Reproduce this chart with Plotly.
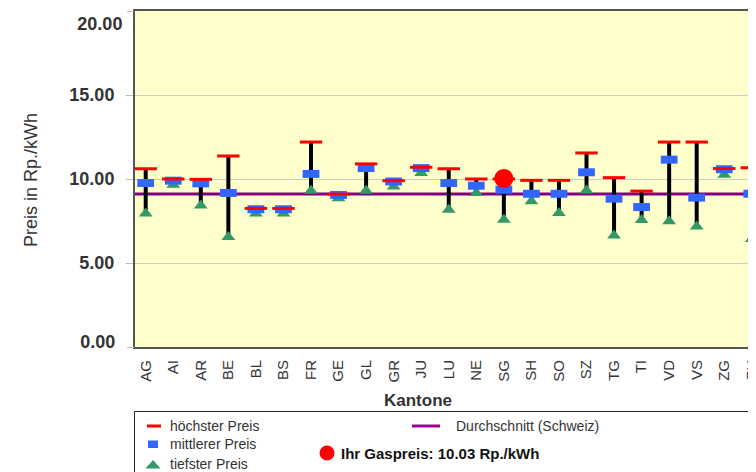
import plotly.graph_objects as go

# ---------------- data ----------------
cantons = ["AG", "AI", "AR", "BE", "BL", "BS", "FR", "GE", "GL", "GR", "JU", "LU",
           "NE", "SG", "SH", "SO", "SZ", "TG", "TI", "VD", "VS", "ZG", "ZH"]
price_high = [10.61, 10.00, 9.98, 11.37, 8.25, 8.25, 12.20, 9.10, 10.90, 9.90, 10.70, 10.61,
              10.00, 10.00, 9.92, 9.92, 11.55, 10.08, 9.28, 12.20, 12.20, 10.62, 10.67]
price_mean = [9.76, 9.90, 9.74, 9.17, 8.20, 8.20, 10.30, 9.05, 10.65, 9.85, 10.65, 9.76,
              9.60, 9.36, 9.12, 9.12, 10.40, 8.83, 8.33, 11.15, 8.89, 10.58, 9.12]
price_low = [7.95, 9.66, 8.43, 6.55, 7.95, 7.95, 9.30, 8.85, 9.30, 9.56, 10.35, 8.17,
             9.17, 7.58, 8.67, 7.97, 9.32, 6.63, 7.56, 7.48, 7.18, 10.26, 6.43]
avg_ch = 9.1
your_canton = "SG"
your_price = 10.03
y_min, y_max = 0, 20
y_mid_ticks = [5, 10, 15]
y_mid_labels = ["5.00", "10.00", "15.00"]
y_top_label = "20.00"
y_bottom_label = "0.00"

# ---------------- layout helpers ----------------
W, H = 756, 472
OFF = 8                               # page offset of the figure
PL, PR, PT, PB = 135, 756, 11, 347   # plot area in page pixels


def px(x):
    return (x - PL) / (PR - PL)


def py(y):
    return (PB - y) / (PB - PT)


RED = "#FF0000"
BLUE = "#3366FF"
GREEN = "#339966"
PURPLE = "#800080"
TXT = "#333333"
FONT = "Arial, Liberation Sans, sans-serif"

fig = go.Figure()

# error bars (low - high)
fig.add_trace(go.Scatter(
    x=cantons, y=price_mean, mode="markers",
    marker=dict(size=1, color="rgba(0,0,0,0)"),
    error_y=dict(type="data", symmetric=False,
                 array=[h - m for h, m in zip(price_high, price_mean)],
                 arrayminus=[m - l for m, l in zip(price_mean, price_low)],
                 thickness=4, width=0, color="black"),
    showlegend=False, hoverinfo="skip"))

# lowest
fig.add_trace(go.Scatter(
    x=cantons, y=price_low, mode="markers", name="tiefster Preis",
    marker=dict(symbol="triangle-up", size=12, color=GREEN), showlegend=False))
# mean (12x8 rectangle via thick ew line)
fig.add_trace(go.Scatter(
    x=cantons, y=price_mean, mode="markers", name="mittlerer Preis",
    marker=dict(symbol="line-ew", size=12, line=dict(width=8, color=BLUE)), showlegend=False))
# highest
fig.add_trace(go.Scatter(
    x=cantons, y=price_high, mode="markers", name="höchster Preis",
    marker=dict(symbol="line-ew", size=16, line=dict(width=3, color=RED)), showlegend=False))
# your price
fig.add_trace(go.Scatter(
    x=[your_canton], y=[your_price], mode="markers", name="Ihr Gaspreis",
    marker=dict(symbol="circle", size=19, color=RED), showlegend=False))

# invisible anchors so the two extra label axes get drawn
for ax in ("y2", "y3"):
    fig.add_trace(go.Scatter(x=[your_canton], y=[your_price], yaxis=ax, mode="markers",
                             marker=dict(size=1, opacity=0), showlegend=False,
                             hoverinfo="skip"))

shapes = [
    # average line
    dict(type="line", xref="paper", yref="y", x0=0, x1=1, y0=avg_ch, y1=avg_ch,
         line=dict(color=PURPLE, width=3), layer="below"),
    # legend box
    dict(type="rect", xref="paper", yref="paper", x0=px(134.5), x1=px(800),
         y0=py(411.5), y1=py(520), line=dict(color="#222222", width=1),
         fillcolor="white", layer="below"),
    # legend keys
    dict(type="line", xref="paper", yref="paper", x0=px(147), x1=px(161),
         y0=py(426), y1=py(426), line=dict(color=RED, width=3)),
    dict(type="rect", xref="paper", yref="paper", x0=px(148), x1=px(158),
         y0=py(448), y1=py(440.5), line=dict(width=0), fillcolor=BLUE),
    dict(type="path", xref="paper", yref="paper",
         path=(f"M {px(145.5)},{py(468.5)} L {px(160.5)},{py(468.5)} "
               f"L {px(153)},{py(460)} Z"),
         line=dict(width=0), fillcolor=GREEN),
    dict(type="line", xref="paper", yref="paper", x0=px(412), x1=px(440),
         y0=py(426), y1=py(426), line=dict(color="#990099", width=3)),
    dict(type="circle", xref="paper", yref="paper", x0=px(319.5), x1=px(334.5),
         y0=py(460.5), y1=py(445.5), line=dict(width=0), fillcolor=RED),
]


def ann(text, x, y, size, xanchor="left", color=TXT, **kw):
    return dict(text=text, x=px(x), y=py(y), xref="paper", yref="paper",
                xanchor=xanchor, yanchor="middle", showarrow=False,
                font=dict(family=FONT, size=size, color=color), **kw)


annotations = [
    ann("Preis in Rp./kWh", 31, 180, 18, xanchor="center", textangle=-90),
    ann("<b>Kantone</b>", 418, 400, 17, xanchor="center"),
    ann("höchster Preis", 168, 426, 14),
    ann("mittlerer Preis", 168, 444, 14),
    ann("tiefster Preis", 168, 464, 14),
    ann("Durchschnitt (Schweiz)", 454, 426, 14),
    ann(f"<b>Ihr Gaspreis: {your_price:.2f} Rp./kWh</b>", 339, 453, 15, color="#111111"),
]

spacing = 27.55
first_px = 145.7
x_lo = -(first_px - PL) / spacing
x_hi = (PR - first_px) / spacing

ytick_common = dict(range=[y_min, y_max], automargin=False,
                    tickfont=dict(family=FONT, size=18, color=TXT),
                    ticks="outside", ticklen=7, tickcolor="#BBBBBB",
                    ticklabelstandoff=8, zeroline=False)

fig.update_layout(
    width=W, height=H,
    margin=dict(l=PL - OFF, r=W - PR + OFF, t=PT - OFF, b=H - PB + OFF, pad=0,
                autoexpand=False),
    paper_bgcolor="white",
    plot_bgcolor="#FFFFCC",
    showlegend=False,
    xaxis=dict(range=[x_lo, x_hi], type="category", automargin=False,
               tickangle=-90, tickfont=dict(family=FONT, size=15, color=TXT),
               showline=True, linecolor="#555555", linewidth=2, mirror=True,
               showgrid=False, zeroline=False, ticks="", ticklabelstandoff=5),
    yaxis=dict(tickvals=y_mid_ticks, ticktext=[f"<b>{t}</b>" for t in y_mid_labels],
               showline=True, linecolor="#555555", linewidth=2, mirror=False,
               showgrid=True, gridcolor="#CCCCCC", gridwidth=1, **ytick_common),
    yaxis2=dict(overlaying="y", anchor="x", side="left", tickvals=[y_max],
                ticktext=[f"<b>{y_top_label}</b>"], ticklabelposition="outside bottom",
                showline=False, showgrid=False, **ytick_common),
    yaxis3=dict(overlaying="y", anchor="x", side="left", tickvals=[y_min],
                ticktext=[f"<b>{y_bottom_label}</b>"], ticklabelshift=-5,
                showline=False, showgrid=False, **ytick_common),
    shapes=shapes,
    annotations=annotations,
)

fig.write_html("out.html")
